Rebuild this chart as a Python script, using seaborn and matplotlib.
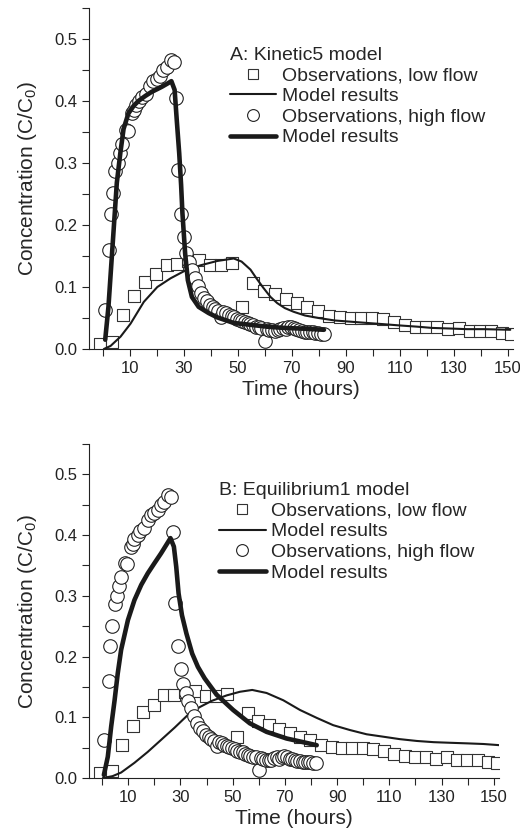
import numpy as np
import pandas as pd
import matplotlib
matplotlib.use("Agg")
import matplotlib.pyplot as plt
from matplotlib.lines import Line2D
from matplotlib.ticker import MultipleLocator
import seaborn as sns

sns.set_style("ticks")
plt.rcParams['font.family'] = ['Liberation Sans', 'DejaVu Sans']
plt.rcParams['mathtext.fontset'] = 'custom'
plt.rcParams['mathtext.rm'] = 'Liberation Sans'

# observations, low flow (squares) - same in both panels
low_t = [-0.8, 3.7, 7.6, 11.8, 15.8, 19.8, 23.7, 27.6, 31.6, 35.7, 39.8, 43.8, 47.8,
         51.8, 55.8, 59.8, 63.8, 67.9, 71.9, 75.8, 79.8, 83.8, 87.9, 91.9, 95.9, 99.9,
         103.9, 107.9, 111.9, 115.9, 119.9, 123.9, 127.9, 131.9, 135.9, 139.9, 143.9,
         147.9, 151.3]
low_c = [0.008, 0.012, 0.055, 0.085, 0.108, 0.121, 0.136, 0.137, 0.142, 0.144, 0.135,
         0.135, 0.139, 0.067, 0.107, 0.094, 0.088, 0.081, 0.074, 0.068, 0.062, 0.054,
         0.051, 0.050, 0.050, 0.050, 0.048, 0.044, 0.039, 0.036, 0.035, 0.035, 0.032,
         0.034, 0.029, 0.029, 0.029, 0.026, 0.024]

# observations, high flow (circles)
high_t = [0.8, 2.5, 3.0, 3.8, 4.8, 5.6, 6.5, 7.3, 8.6, 9.6, 11.0, 11.7, 12.4, 13.6,
          14.7, 16.2, 17.5, 18.6, 20.0, 21.3, 22.5, 23.8, 25.2, 26.3, 27.2, 28.1, 28.9,
          30.1, 31.0, 32.0, 33.0, 34.1, 35.3, 36.5, 37.6, 38.7, 39.8, 40.8, 41.8, 42.8,
          43.9, 44.8, 45.8, 46.8, 47.8, 48.8, 49.8, 50.8, 51.8, 52.8, 53.8, 54.8, 55.8,
          56.8, 57.8, 58.8, 60.1, 60.8, 61.8, 62.8, 63.8, 64.8, 65.8, 66.8, 67.8, 68.8,
          69.8, 70.8, 71.8, 72.8, 73.8, 74.8, 75.8, 76.8, 77.8, 78.8, 79.8, 80.8, 82.0]
high_c = [0.063, 0.160, 0.218, 0.251, 0.287, 0.300, 0.316, 0.331, 0.354, 0.352, 0.380,
          0.386, 0.393, 0.400, 0.406, 0.411, 0.425, 0.433, 0.436, 0.441, 0.450, 0.455,
          0.466, 0.463, 0.405, 0.288, 0.217, 0.180, 0.155, 0.140, 0.127, 0.115, 0.102,
          0.091, 0.083, 0.077, 0.071, 0.067, 0.064, 0.061, 0.052, 0.060, 0.058, 0.055,
          0.053, 0.051, 0.049, 0.047, 0.045, 0.043, 0.042, 0.040, 0.038, 0.036, 0.035,
          0.034, 0.013, 0.033, 0.031, 0.030, 0.029, 0.030, 0.033, 0.034, 0.032, 0.035,
          0.036, 0.034, 0.032, 0.031, 0.029, 0.028, 0.028, 0.027, 0.027, 0.026, 0.026,
          0.025, 0.025]

# A: Kinetic5 model
kin_low_t = [0.5, 3.0, 6.7, 10.4, 15.3, 20.3, 25.2, 30.4, 36.3, 42.5, 48.6, 51.5, 54.8,
             57.0, 59.5, 62.2, 64.7, 67.5, 70.8, 75.0, 80.0, 86.0, 92.0, 98.0, 104.2,
             110.0, 116.6, 122.0, 128.9, 135.0, 141.2, 151.0]
kin_low_c = [0.0, 0.005, 0.020, 0.041, 0.076, 0.100, 0.114, 0.126, 0.135, 0.142, 0.146,
             0.141, 0.128, 0.114, 0.099, 0.084, 0.074, 0.066, 0.060, 0.054, 0.050, 0.046,
             0.044, 0.042, 0.040, 0.038, 0.036, 0.034, 0.033, 0.032, 0.032, 0.031]
kin_high_t = [1.0, 2.2, 3.7, 5.3, 6.6, 7.8, 9.6, 11.5, 13.3, 15.8, 18.3, 20.2, 22.0, 24.0,
              25.5, 26.7, 27.5, 28.4, 29.1, 29.6, 30.6, 31.6, 33.1, 35.6, 39.3, 42.5,
              48.6, 54.8, 61.0, 67.2, 73.3, 82.0]
kin_high_c = [0.015, 0.068, 0.165, 0.268, 0.316, 0.355, 0.380, 0.392, 0.400, 0.408, 0.415,
              0.419, 0.423, 0.428, 0.432, 0.418, 0.369, 0.316, 0.265, 0.219, 0.154, 0.111,
              0.084, 0.068, 0.058, 0.051, 0.042, 0.039, 0.036, 0.034, 0.033, 0.031]

# B: Equilibrium1 model
eq_low_t = [0.3, 4.0, 7.3, 12.4, 17.5, 22.4, 27.8, 32.9, 37.5, 42.0, 47.7, 52.8, 57.5,
            63.0, 69.4, 75.8, 82.2, 88.5, 94.9, 101.3, 107.7, 114.0, 120.5, 127.0, 133.3,
            140.0, 146.0, 152.4]
eq_low_c = [0.0, 0.003, 0.009, 0.025, 0.043, 0.062, 0.083, 0.104, 0.117, 0.127, 0.136,
            0.142, 0.145, 0.140, 0.128, 0.112, 0.099, 0.087, 0.079, 0.072, 0.068, 0.064,
            0.061, 0.059, 0.058, 0.057, 0.056, 0.054]
eq_high_t = [0.7, 2.2, 3.5, 4.8, 6.0, 7.3, 9.9, 12.4, 15.0, 17.5, 20.1, 22.6, 25.2, 26.2,
             27.5, 28.4, 29.3, 30.6, 32.3, 34.5, 36.7, 39.3, 43.9, 50.2, 56.6, 63.0, 70.7,
             76.0, 82.2]
eq_high_c = [0.005, 0.035, 0.085, 0.128, 0.172, 0.211, 0.260, 0.293, 0.318, 0.337, 0.354,
             0.370, 0.388, 0.395, 0.381, 0.348, 0.304, 0.268, 0.238, 0.205, 0.183, 0.164,
             0.137, 0.112, 0.090, 0.076, 0.065, 0.060, 0.054]

obs_low = pd.DataFrame({'t': low_t, 'c': low_c})
obs_high = pd.DataFrame({'t': high_t, 'c': high_c})

W, H = 520, 839
fig = plt.figure(figsize=(W / 100, H / 100), dpi=100)
ax1 = fig.add_axes([89 / W, 1 - 349 / H, 424 / W, 341 / H])
ax2 = fig.add_axes([89 / W, 1 - 778 / H, 410 / W, 334 / H])

panels = [
    (ax1, kin_low_t, kin_low_c, kin_high_t, kin_high_c, 'A: Kinetic5 model', (0.332, 0.885)),
    (ax2, eq_low_t, eq_low_c, eq_high_t, eq_high_c, 'B: Equilibrium1 model', (0.317, 0.885)),
]

for ax, lt, lc, ht, hc, title, anchor in panels:
    sns.scatterplot(data=obs_low, x='t', y='c', marker='s', s=66, facecolor='white',
                    edgecolor='#333333', linewidth=0.8, ax=ax, zorder=2)
    sns.lineplot(x=lt, y=lc, color='#1a1a1a', linewidth=1.5, ax=ax, zorder=3)
    sns.scatterplot(data=obs_high, x='t', y='c', marker='o', s=95, facecolor='white',
                    edgecolor='#222222', linewidth=0.8, ax=ax, zorder=4)
    sns.lineplot(x=ht, y=hc, color='#1a1a1a', linewidth=3.3, ax=ax, zorder=5)

    ax.set_xlim(-5, 152)
    ax.set_ylim(0, 0.55)
    ax.set_xticks([10, 30, 50, 70, 90, 110, 130, 150])
    ax.xaxis.set_minor_locator(MultipleLocator(10))
    ax.yaxis.set_major_locator(MultipleLocator(0.1))
    ax.yaxis.set_minor_locator(MultipleLocator(0.05))
    ax.tick_params(which='major', direction='out', length=5, width=0.8, labelsize=12, colors='#222222')
    ax.tick_params(which='minor', direction='out', length=5, width=0.8)
    ax.set_yticklabels(['%.1f' % v for v in ax.get_yticks()])
    sns.despine(ax=ax)
    for sp in ax.spines.values():
        sp.set_linewidth(0.8)
        sp.set_color('#222222')
    ax.set_xlabel('Time (hours)', fontsize=15, labelpad=3)
    ax.set_ylabel('Concentration (C/C$_\\mathrm{0}$)', fontsize=15, labelpad=11)

    handles = [
        Line2D([], [], marker='s', linestyle='none', markersize=7.5, markerfacecolor='white',
               markeredgecolor='#333333', markeredgewidth=0.8),
        Line2D([], [], color='#1a1a1a', linewidth=1.5),
        Line2D([], [], marker='o', linestyle='none', markersize=8.5, markerfacecolor='white',
               markeredgecolor='#222222', markeredgewidth=0.8),
        Line2D([], [], color='#1a1a1a', linewidth=3.3),
    ]
    labels = ['Observations, low flow', 'Model results',
              'Observations, high flow', 'Model results']
    ax.legend(handles, labels, title=title, loc='upper left', bbox_to_anchor=anchor,
              frameon=False, fontsize=14, title_fontsize=14, alignment='left',
              handlelength=2.4, handletextpad=0.3, labelspacing=0.15, borderpad=0,
              borderaxespad=0)

fig.savefig('out.png', dpi=100)
